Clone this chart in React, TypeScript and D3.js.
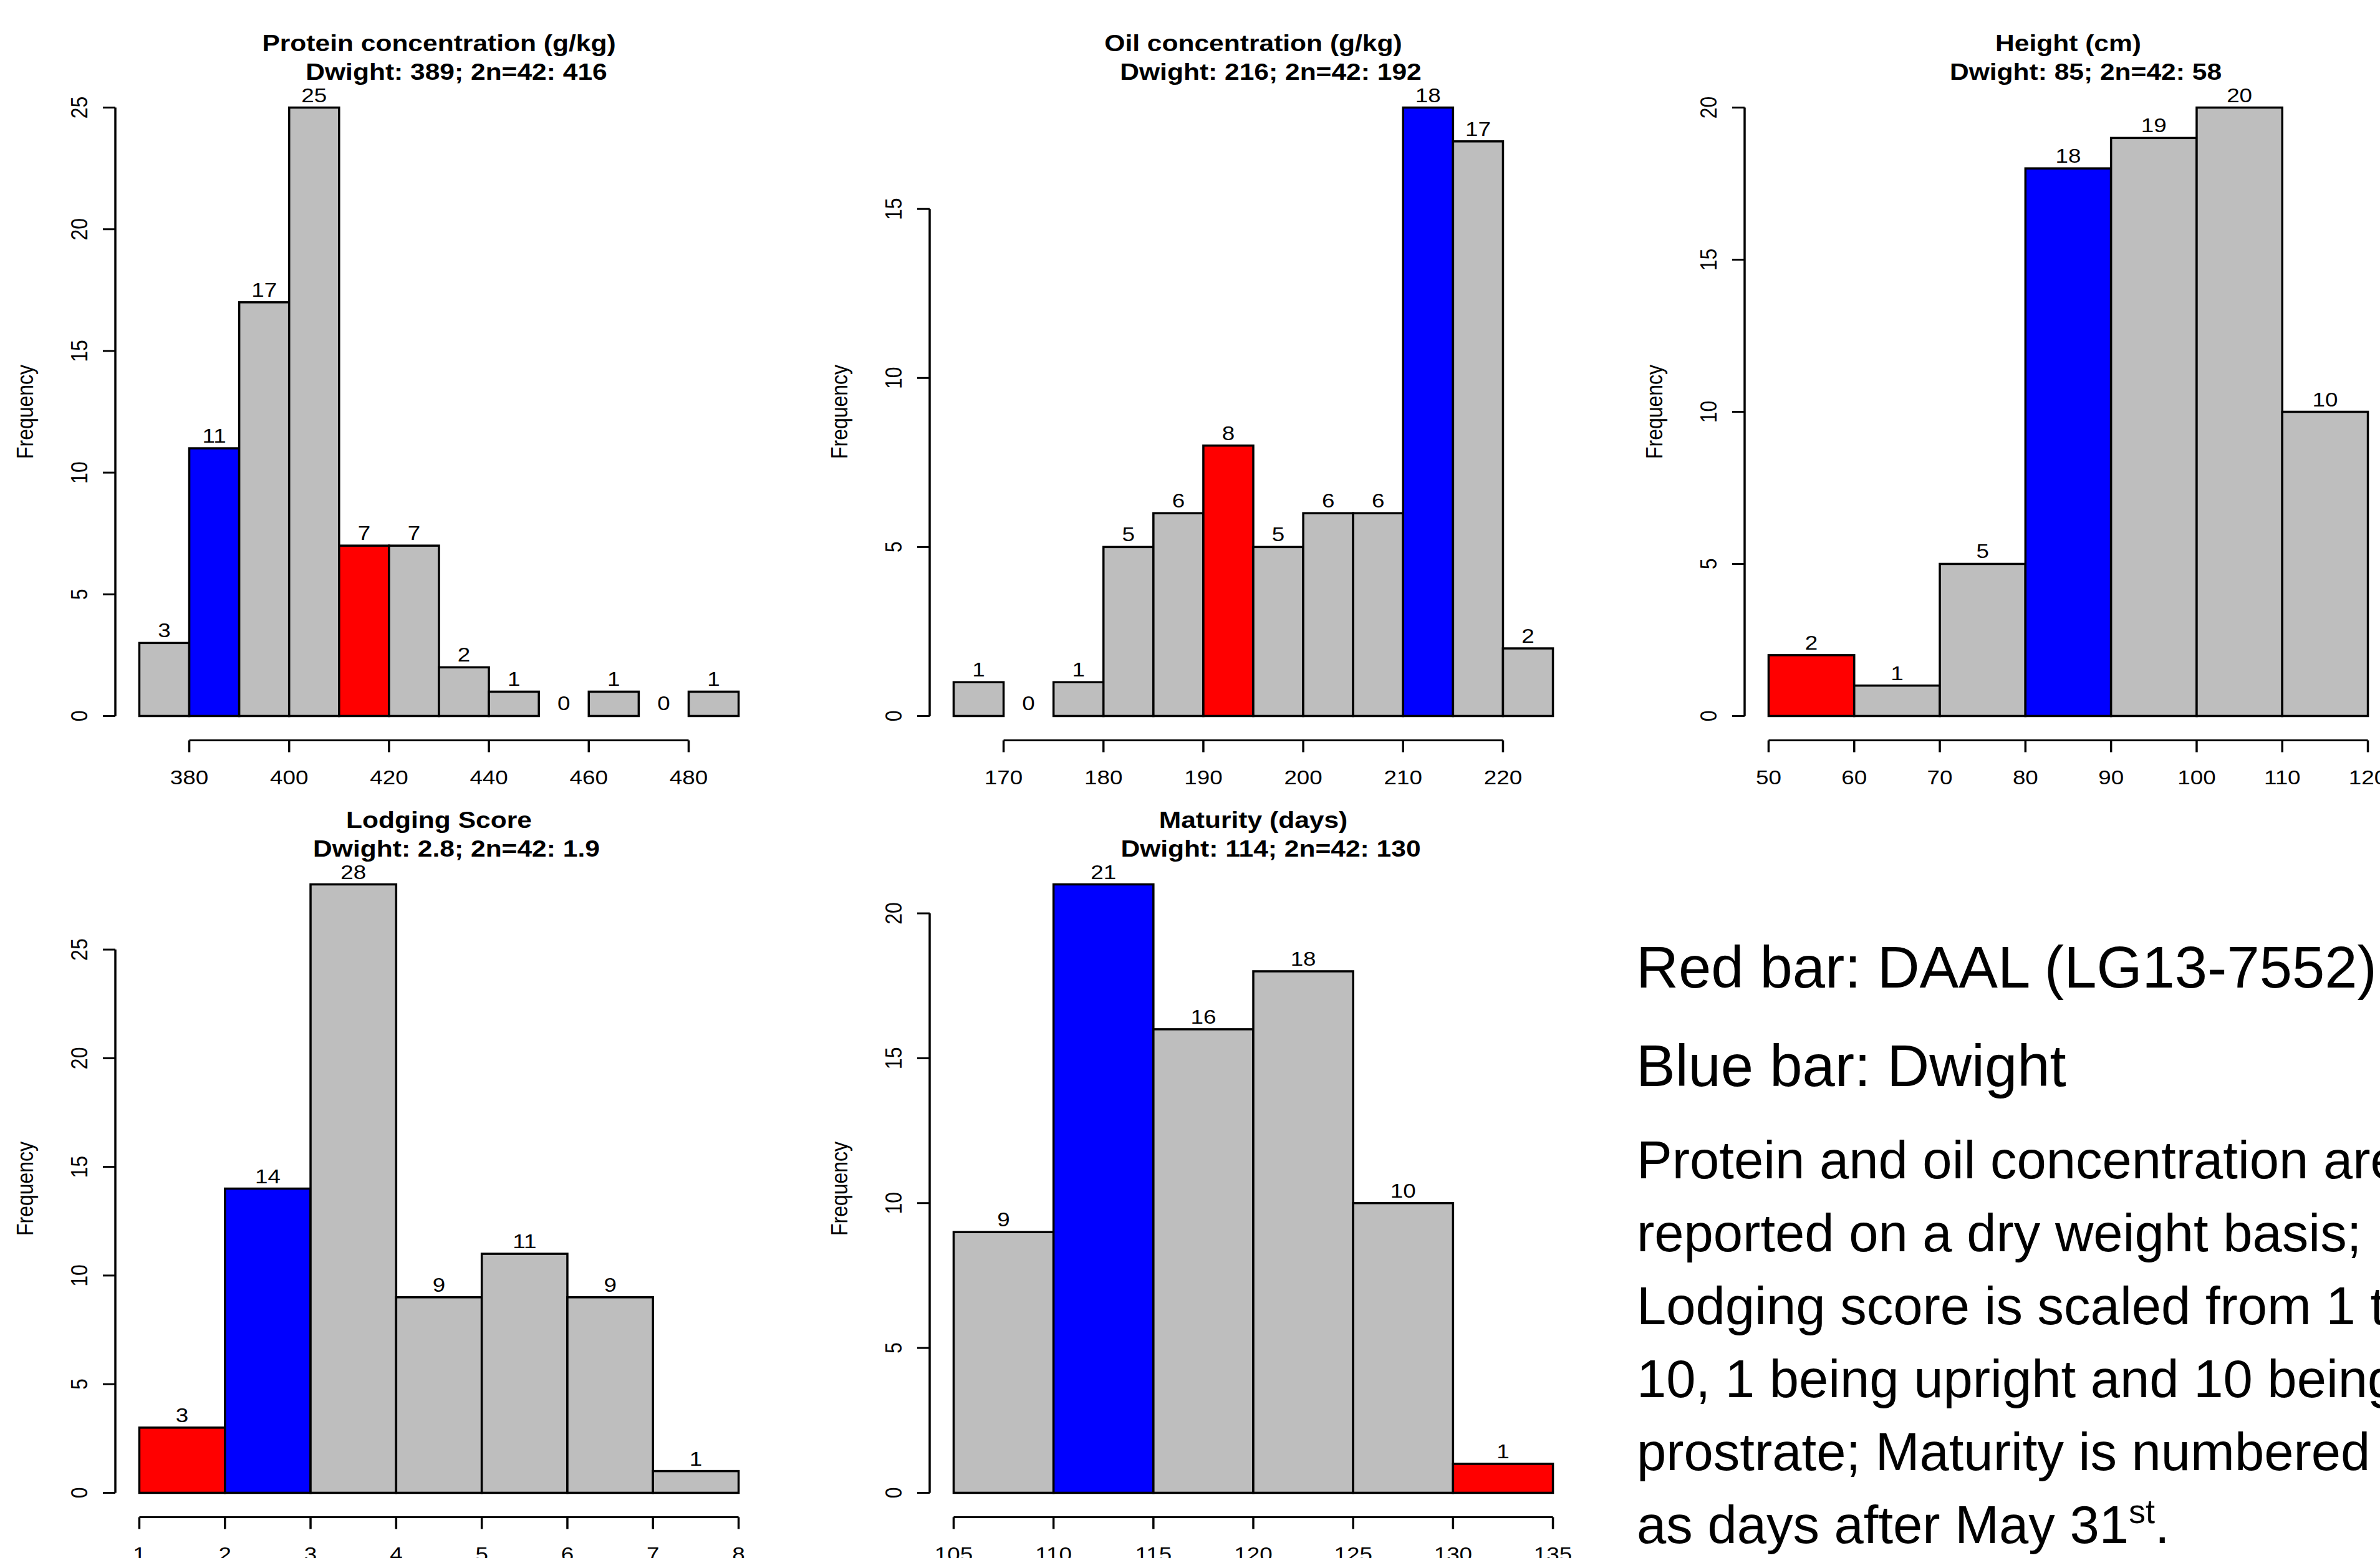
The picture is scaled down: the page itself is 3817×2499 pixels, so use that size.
import * as d3 from "d3";

// histogram data (bin edges + counts)
const proteinBreaks = [370, 380, 390, 400, 410, 420, 430, 440, 450, 460, 470, 480, 490];
const proteinCounts = [3, 11, 17, 25, 7, 7, 2, 1, 0, 1, 0, 1];
const proteinTicks = [380, 400, 420, 440, 460, 480];

const oilBreaks = [165, 170, 175, 180, 185, 190, 195, 200, 205, 210, 215, 220, 225];
const oilCounts = [1, 0, 1, 5, 6, 8, 5, 6, 6, 18, 17, 2];
const oilTicks = [170, 180, 190, 200, 210, 220];

const heightBreaks = [50, 60, 70, 80, 90, 100, 110, 120];
const heightCounts = [2, 1, 5, 18, 19, 20, 10];
const heightTicks = [50, 60, 70, 80, 90, 100, 110, 120];

const lodgingBreaks = [1, 2, 3, 4, 5, 6, 7, 8];
const lodgingCounts = [3, 14, 28, 9, 11, 9, 1];
const lodgingTicks = [1, 2, 3, 4, 5, 6, 7, 8];

const maturityBreaks = [105, 110, 115, 120, 125, 130, 135];
const maturityCounts = [9, 21, 16, 18, 10, 1];
const maturityTicks = [105, 110, 115, 120, 125, 130, 135];

const panels = [
  { title: "Protein concentration (g/kg)", sub: "Dwight: 389; 2n=42: 416", breaks: proteinBreaks, counts: proteinCounts, xTicks: proteinTicks, yTicks: [0, 5, 10, 15, 20, 25], blue: 1, red: 4, col: 0, row: 0 },
  { title: "Oil concentration (g/kg)", sub: "Dwight: 216; 2n=42: 192", breaks: oilBreaks, counts: oilCounts, xTicks: oilTicks, yTicks: [0, 5, 10, 15], blue: 9, red: 5, col: 1, row: 0 },
  { title: "Height (cm)", sub: "Dwight: 85; 2n=42: 58", breaks: heightBreaks, counts: heightCounts, xTicks: heightTicks, yTicks: [0, 5, 10, 15, 20], blue: 3, red: 0, col: 2, row: 0 },
  { title: "Lodging Score", sub: "Dwight: 2.8; 2n=42: 1.9", breaks: lodgingBreaks, counts: lodgingCounts, xTicks: lodgingTicks, yTicks: [0, 5, 10, 15, 20, 25], blue: 1, red: 0, col: 0, row: 1 },
  { title: "Maturity (days)", sub: "Dwight: 114; 2n=42: 130", breaks: maturityBreaks, counts: maturityCounts, xTicks: maturityTicks, yTicks: [0, 5, 10, 15, 20], blue: 1, red: 5, col: 1, row: 1 },
];

const noteHeadings = ["Red bar: DAAL (LG13-7552)", "Blue bar: Dwight"];
const noteLines = [
  "Protein and oil concentration are",
  "reported on a dry weight basis;",
  "Lodging score is scaled from 1 to",
  "10, 1 being upright and 10 being",
  "prostrate; Maturity is numbered",
];
const noteLast = "as days after May 31";

const W = 3817;
const H = 2499;
const plotLefts = [185, 1491, 2798];
const plotTops = [133.5, 1379.5];
const plotW = 1038;
const plotH = 1054;
const SX = 1.15; // the R output is slightly stretched horizontally
const FONT = "'Liberation Sans', Arial, sans-serif";

function SText({ x, y, size, bold, anchor, rotate, children }: any) {
  const t = `translate(${x},${y}) scale(${SX},1)${rotate ? " rotate(-90)" : ""}`;
  return (
    <text
      transform={t}
      fontSize={size}
      fontWeight={bold ? "bold" : "normal"}
      textAnchor={anchor || "middle"}
      fontFamily={FONT}
      fill="#000"
    >
      {children}
    </text>
  );
}

function Hist({ p }: any) {
  const left = plotLefts[p.col];
  const top = plotTops[p.row];
  const bottom = top + plotH;
  const lo = p.breaks[0];
  const hi = p.breaks[p.breaks.length - 1];
  const pad = (hi - lo) * 0.04;
  const maxC = d3.max(p.counts) as number;
  const x = d3.scaleLinear().domain([lo - pad, hi + pad]).range([left, left + plotW]);
  const y = d3.scaleLinear().domain([-maxC * 0.04, maxC * 1.04]).range([bottom, top]);
  const cx = left + plotW / 2;
  const yTicks = p.yTicks;
  const xTicks = p.xTicks;

  return (
    <g>
      <SText x={cx} y={top - 52} size={37} bold>{p.title}</SText>
      <SText x={cx + 28} y={top - 6} size={37} bold>{p.sub}</SText>

      {p.counts.map((c: number, i: number) => {
        const x0 = x(p.breaks[i]);
        const x1 = x(p.breaks[i + 1]);
        const fill = i === p.blue ? "#0000FF" : i === p.red ? "#FF0000" : "#BEBEBE";
        return (
          <g key={i}>
            {c > 0 && (
              <rect x={x0} y={y(c)} width={x1 - x0} height={y(0) - y(c)} fill={fill} stroke="#000" strokeWidth={3.5} />
            )}
            <SText x={(x0 + x1) / 2} y={y(c) - 9} size={32}>{c}</SText>
          </g>
        );
      })}

      {/* y axis */}
      <line x1={left} x2={left} y1={y(yTicks[0])} y2={y(yTicks[yTicks.length - 1])} stroke="#000" strokeWidth={3.5} />
      {yTicks.map((t: number) => (
        <g key={t}>
          <line x1={left - 20} x2={left} y1={y(t)} y2={y(t)} stroke="#000" strokeWidth={3} />
          <SText x={left - 45} y={y(t)} size={32} rotate>{t}</SText>
        </g>
      ))}
      <SText x={left - 132} y={top + plotH / 2} size={32} rotate>Frequency</SText>

      {/* x axis */}
      <line x1={x(xTicks[0])} x2={x(xTicks[xTicks.length - 1])} y1={bottom} y2={bottom} stroke="#000" strokeWidth={3} />
      {xTicks.map((t: number) => (
        <g key={t}>
          <line x1={x(t)} x2={x(t)} y1={bottom} y2={bottom + 19} stroke="#000" strokeWidth={3.5} />
          <SText x={x(t)} y={bottom + 70} size={32}>{t}</SText>
        </g>
      ))}
    </g>
  );
}

export default function App() {
  const nx = 2624;
  return (
    <svg
      width={W}
      height={H}
      viewBox={`0 0 ${W} ${H}`}
      style={{ position: "absolute", left: 0, top: 0, display: "block", background: "#fff" }}
    >
      <rect x={0} y={0} width={W} height={H} fill="#fff" />
      {panels.map((p, i) => (
        <Hist key={i} p={p} />
      ))}

      <g fontFamily={FONT} fill="#000">
        {noteHeadings.map((t, i) => (
          <text key={t} x={nx} y={1584 + i * 158} fontSize={94}>{t}</text>
        ))}
        {noteLines.map((t, i) => (
          <text key={t} x={nx + 1} y={1890 + i * 117} fontSize={85}>{t}</text>
        ))}
        <text x={nx + 1} y={1890 + noteLines.length * 117} fontSize={85}>
          {noteLast}
          <tspan dy={-32} fontSize={54}>st</tspan>
          <tspan dy={32} fontSize={85}>.</tspan>
        </text>
      </g>
    </svg>
  );
}
